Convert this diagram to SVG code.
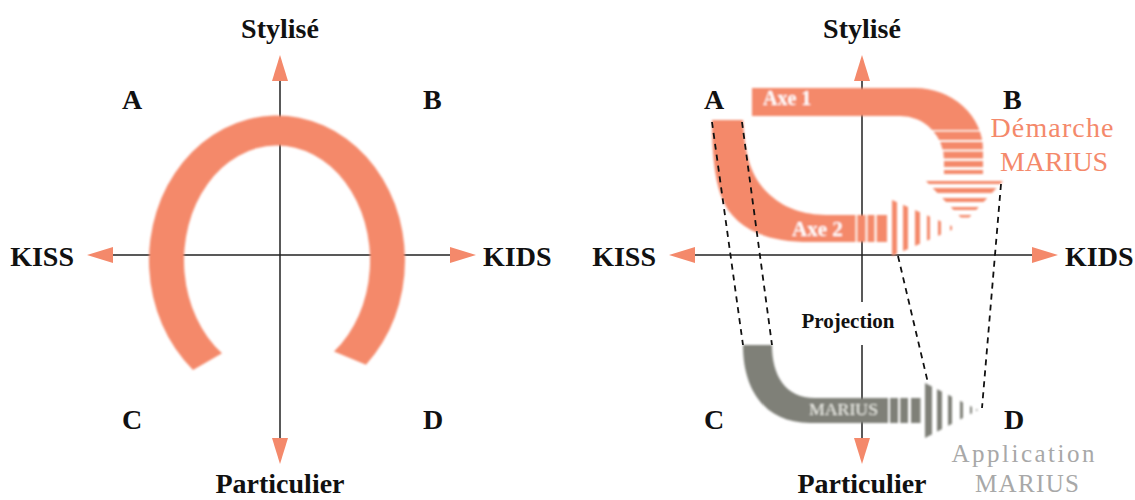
<svg xmlns="http://www.w3.org/2000/svg" width="1135" height="500" viewBox="0 0 1135 500">
<defs>
<style>
.ax{stroke:#222;stroke-width:1.5;fill:none}
.ah{fill:#F4896B}
.lbl{font-family:"Liberation Serif","Times New Roman",serif;font-weight:bold;font-size:28px;fill:#111}
.sal{fill:#F4896B}
.gry{fill:#7f8078}
.dash{stroke:#111;stroke-width:1.8;stroke-dasharray:6 5;fill:none}
.inband{font-family:"Liberation Serif","Times New Roman",serif;font-weight:bold;fill:#fff}
.big{font-family:"Liberation Serif","Times New Roman",serif;font-size:28px}
.app{font-family:"Liberation Serif","Times New Roman",serif;font-size:25px;fill:#a8a8a8}
</style>
<filter id="soft" x="-5%" y="-5%" width="110%" height="110%"><feGaussianBlur stdDeviation="0.8"/></filter>
<mask id="m1" maskUnits="userSpaceOnUse" x="0" y="0" width="1135" height="500">
<rect width="1135" height="500" fill="#fff"/>
<g fill="#000">
<rect x="900" y="130" width="110" height="1.5"/>
<rect x="900" y="140" width="110" height="2"/>
<rect x="900" y="149.5" width="110" height="2"/>
<rect x="900" y="158.5" width="110" height="2.5"/>
<rect x="900" y="167" width="110" height="3"/>
<rect x="900" y="174" width="110" height="7"/>
<rect x="900" y="184" width="110" height="4"/>
<rect x="900" y="193" width="110" height="5"/>
<rect x="900" y="202" width="110" height="5"/>
<rect x="900" y="210" width="110" height="5"/>
<rect x="900" y="217.5" width="110" height="6"/>
</g>
</mask>
<mask id="m2" maskUnits="userSpaceOnUse" x="0" y="0" width="1135" height="500">
<rect width="1135" height="500" fill="#fff"/>
<g fill="#000">
<rect x="855.5" y="195" width="1.8" height="65"/>
<rect x="865.5" y="195" width="2" height="65"/>
<rect x="874.5" y="195" width="2.2" height="65"/>
<rect x="887" y="195" width="5" height="65"/>
<rect x="897" y="195" width="6" height="65"/>
<rect x="908" y="195" width="7" height="65"/>
<rect x="920" y="195" width="7" height="65"/>
<rect x="930" y="195" width="8" height="65"/>
<rect x="941" y="195" width="9" height="65"/>
<rect x="952" y="195" width="6" height="65"/>
</g>
</mask>
<mask id="m3" maskUnits="userSpaceOnUse" x="0" y="0" width="1135" height="500">
<rect width="1135" height="500" fill="#fff"/>
<g fill="#000">
<rect x="888" y="378" width="2" height="65"/>
<rect x="898" y="378" width="2.2" height="65"/>
<rect x="908" y="378" width="3" height="65"/>
<rect x="920.5" y="378" width="4.5" height="65"/>
<rect x="932" y="378" width="5" height="65"/>
<rect x="942" y="378" width="6" height="65"/>
<rect x="952" y="378" width="8" height="65"/>
<rect x="963" y="378" width="7" height="65"/>
<rect x="972" y="378" width="4" height="65"/>
</g>
</mask>
</defs>
<rect width="1135" height="500" fill="#fff"/>

<!-- LEFT DIAGRAM -->
<g id="left-axes">
<line class="ax" x1="280" y1="81" x2="280" y2="438"/>
<line class="ax" x1="113" y1="255" x2="450" y2="255"/>
<polygon class="ah" points="272,81 288,81 280,55"/>
<polygon class="ah" points="272,438 288,438 280,464"/>
<polygon class="ah" points="113,247 113,263 87,255"/>
<polygon class="ah" points="450,247 450,263 476,255"/>
</g>
<g id="left-horseshoe" filter="url(#soft)">
<path class="sal" d="M193,369.9 A128,145 0 1 1 366,364.7 L334,351.4 A93,115 0 1 0 222,353.2 Z"/>
</g>
<g id="left-labels">
<text class="lbl" x="280" y="38" text-anchor="middle">Stylisé</text>
<text class="lbl" x="280" y="493" text-anchor="middle">Particulier</text>
<text class="lbl" x="74" y="266" text-anchor="end">KISS</text>
<text class="lbl" x="483" y="266">KIDS</text>
<text class="lbl" x="122" y="109">A</text>
<text class="lbl" x="423" y="109">B</text>
<text class="lbl" x="122" y="429">C</text>
<text class="lbl" x="423" y="429">D</text>
</g>

<!-- RIGHT DIAGRAM -->
<g id="right-axes">
<line class="ax" x1="862" y1="81" x2="862" y2="302"/>
<line class="ax" x1="862" y1="345" x2="862" y2="438"/>
<line class="ax" x1="695" y1="255" x2="1032" y2="255"/>
<polygon class="ah" points="854,81 870,81 862,55"/>
<polygon class="ah" points="854,438 870,438 862,464"/>
<polygon class="ah" points="695,247 695,263 669,255"/>
<polygon class="ah" points="1032,247 1032,263 1058,255"/>
</g>

<g id="axe1" filter="url(#soft)">
<path class="sal" mask="url(#m1)" d="M752,88 L915,88 A68,62 0 0 1 983,150 L983,181 L1003,181 L965,222 L926,181 L944,181 L944,160 A44,44 0 0 0 900,116 L752,116 Z"/>
<text class="inband" x="763" y="105" font-size="20">Axe 1</text>
</g>

<g id="axe2" filter="url(#soft)">
<path class="sal" mask="url(#m2)" d="M712,120 L743,120 C745,150 748,175 770,195 C788,211 808,215 830,215 L892,215 L892,200 L956,228 L892,256 L892,242 L810,242 C762,242 732,226 721,196 C714,176 712,150 712,120 Z"/>
<text class="inband" x="792" y="236" font-size="21">Axe 2</text>
</g>

<g id="marius-band" filter="url(#soft)">
<path class="gry" mask="url(#m3)" d="M743,345 L772,345 C772,375 785,398 815,398 L925,398 L925,383 L978,410 L925,438 L925,423 L810,423 C765,423 743,390 743,345 Z"/>
<text x="809" y="415" font-family="Liberation Serif, Times New Roman, serif" font-size="16" fill="#eeeee8" textLength="69" lengthAdjust="spacingAndGlyphs">MARIUS</text>
</g>

<g id="projection-lines">
<line class="dash" x1="712" y1="122" x2="743" y2="345"/>
<line class="dash" x1="742" y1="122" x2="772" y2="345"/>
<line class="dash" x1="898" y1="256" x2="928" y2="383"/>
<line class="dash" x1="1001" y1="184" x2="982" y2="408"/>
</g>

<g id="right-labels">
<text class="lbl" x="862" y="38" text-anchor="middle">Stylisé</text>
<text class="lbl" x="862" y="493" text-anchor="middle">Particulier</text>
<text class="lbl" x="656" y="266" text-anchor="end">KISS</text>
<text class="lbl" x="1065" y="266">KIDS</text>
<text class="lbl" x="704" y="109">A</text>
<text class="lbl" x="1003" y="109">B</text>
<text class="lbl" x="704" y="429">C</text>
<text class="lbl" x="1004" y="429">D</text>
<text class="lbl" x="848" y="328" text-anchor="middle" style="font-size:21px">Projection</text>
</g>

<g id="demarche-label">
<text class="big" x="1052" y="137" text-anchor="middle" fill="#F4896B" textLength="123">Démarche</text>
<text class="big" x="1054" y="171" text-anchor="middle" fill="#F4896B" textLength="108">MARIUS</text>
</g>
<g id="application-label">
<text class="app" x="1023" y="462" text-anchor="middle" textLength="143">Application</text>
<text class="app" x="1027" y="492" text-anchor="middle" textLength="104">MARIUS</text>
</g>
</svg>
